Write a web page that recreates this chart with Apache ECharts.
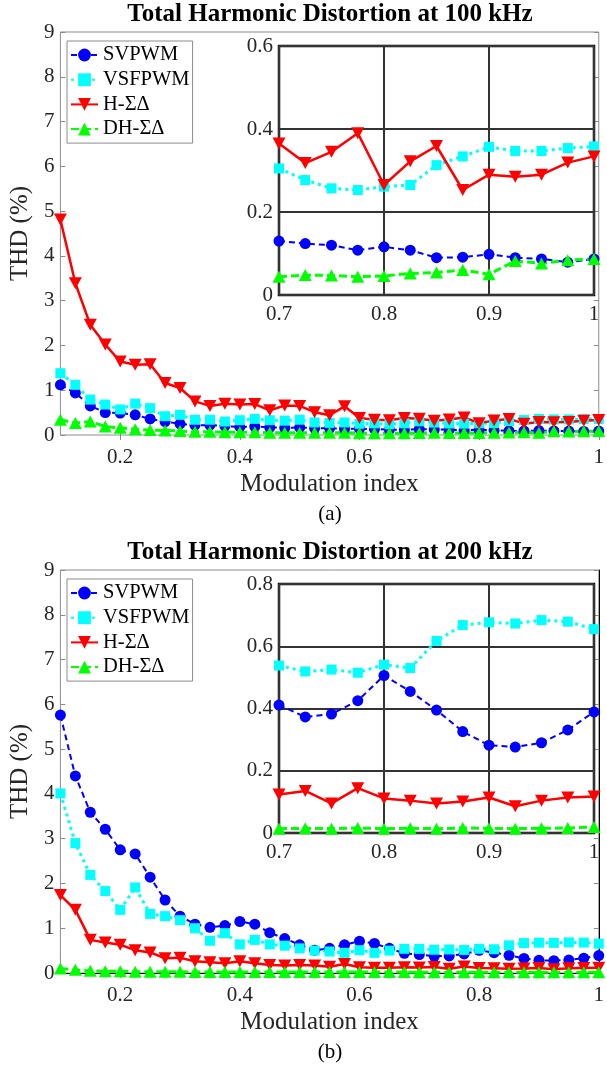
<!DOCTYPE html>
<html><head><meta charset="utf-8">
<script src="https://cdn.jsdelivr.net/npm/echarts@6/dist/echarts.min.js"></script>
<style>html,body{margin:0;padding:0;background:#fff}#c{width:607px;height:1066px}</style>
</head><body><div id="c"></div>
<script>
// ---- data ----
const modIndex = [0.1,0.125,0.15,0.175,0.2,0.225,0.25,0.275,0.3,0.325,0.35,0.375,0.4,0.425,0.45,0.475,0.5,0.525,0.55,0.575,0.6,0.625,0.65,0.675,0.7,0.725,0.75,0.775,0.8,0.825,0.85,0.875,0.9,0.925,0.95,0.975,1.0];
const xTickLabels = [0.2,0.4,0.6,0.8,1];
const seriesNames = ['SVPWM','VSFPWM','H-ΣΔ','DH-ΣΔ'];

// (a) 100 kHz
const a_svpwm  = [1.12,0.94,0.65,0.50,0.49,0.45,0.36,0.30,0.25,0.22,0.22,0.20,0.18,0.19,0.17,0.16,0.17,0.15,0.15,0.14,0.14,0.13,0.12,0.12,
                  0.130,0.124,0.120,0.108,0.116,0.108,0.090,0.091,0.098,0.090,0.087,0.079,0.087];
const a_vsfpwm = [1.38,1.12,0.79,0.68,0.57,0.70,0.60,0.42,0.45,0.34,0.34,0.30,0.33,0.36,0.33,0.32,0.34,0.28,0.27,0.28,0.25,0.26,0.24,0.26,
                  0.305,0.277,0.257,0.253,0.261,0.265,0.313,0.334,0.357,0.347,0.347,0.354,0.358];
const a_hsd    = [4.81,3.39,2.46,2.02,1.64,1.57,1.58,1.16,1.05,0.75,0.65,0.70,0.68,0.69,0.55,0.66,0.65,0.51,0.44,0.64,0.38,0.34,0.33,0.38,
                  0.365,0.318,0.345,0.390,0.265,0.322,0.359,0.253,0.290,0.285,0.290,0.319,0.334];
const a_dhsd   = [0.34,0.27,0.30,0.19,0.16,0.13,0.11,0.10,0.09,0.07,0.07,0.06,0.06,0.06,0.05,0.05,0.05,0.05,0.05,0.05,0.04,0.04,0.04,0.04,
                  0.044,0.048,0.047,0.044,0.046,0.052,0.054,0.060,0.050,0.082,0.076,0.084,0.087];
// (b) 200 kHz
const b_svpwm  = [5.76,4.40,3.59,3.21,2.75,2.66,2.14,1.63,1.27,1.09,1.02,1.06,1.15,1.09,0.90,0.77,0.63,0.51,0.55,0.63,0.71,0.66,0.55,0.44,
                  0.411,0.373,0.382,0.425,0.506,0.455,0.395,0.326,0.282,0.276,0.290,0.331,0.389];
const b_vsfpwm = [4.01,2.90,2.19,1.83,1.41,1.91,1.32,1.27,1.18,1.00,0.72,0.89,0.64,0.74,0.64,0.61,0.55,0.50,0.48,0.45,0.51,0.45,0.50,0.54,
                  0.538,0.519,0.525,0.515,0.541,0.530,0.617,0.668,0.677,0.673,0.684,0.679,0.655];
const b_hsd    = [1.74,1.41,0.74,0.68,0.63,0.51,0.46,0.33,0.34,0.26,0.24,0.22,0.26,0.22,0.18,0.17,0.18,0.17,0.14,0.20,0.13,0.12,0.12,0.13,
                  0.124,0.135,0.095,0.144,0.111,0.104,0.095,0.101,0.114,0.086,0.104,0.114,0.117];
const b_dhsd   = [0.10,0.07,0.05,0.04,0.04,0.03,0.03,0.03,0.03,0.02,0.02,0.02,0.02,0.02,0.02,0.02,0.02,0.02,0.02,0.02,0.02,0.02,0.02,0.02,
                  0.014,0.015,0.014,0.016,0.014,0.015,0.014,0.016,0.015,0.014,0.015,0.016,0.019];

const insetFrom = 0.7;   // inset shows the 0.7 .. 1.0 part of the same data

// ---- styling ----
const FONT = '"Liberation Serif","Times New Roman",serif';
const TXT = '#262626';
const styles = [
  {color:'#0000ff', symbol:'circle',   size:11,      rotate:0,   type:[6,4], width:2},
  {color:'#00ffff', symbol:'rect',     size:10,      rotate:0,   type:[3,4], width:3},
  {color:'#ff0000', symbol:'triangle', size:[13,12], rotate:180, type:'solid', width:2.5},
  {color:'#00ff00', symbol:'triangle', size:[13,12], rotate:0,   type:[8,4], width:3}
];

const chart = echarts.init(document.getElementById('c'), null, {renderer:'canvas'});
const opt = {animation:false, grid:[], xAxis:[], yAxis:[], series:[], legend:[], graphic:[]};
const fmt = v => String(+(+v).toFixed(2));

function panel(off, title, tag, arrays, insetMax, dark){
  const g = opt.grid.length;
  const axisCol = '#8c8c8c';
  opt.grid.push({left:54, right:2, top:32+off, height:403, show:true, borderColor:axisCol, borderWidth:1, backgroundColor:'transparent'});
  opt.grid.push({left:279, right:13, top:46+off, height:249, show:true, backgroundColor:'#ffffff', borderColor:'#000', borderWidth:2.5, z:10});
  const xm = opt.xAxis.length, ym = opt.yAxis.length;
  // main axes
  opt.xAxis.push({type:'value', gridIndex:g, min:0.1, max:1, position:'bottom',
    axisLine:{show:dark, lineStyle:{color:'#000', width:1}, onZero:false},
    axisTick:{show:true, inside:true, length:5, customValues:xTickLabels, lineStyle:{color:axisCol}},
    axisLabel:{customValues:xTickLabels, formatter:fmt, fontFamily:FONT, fontSize:21, color:TXT, margin:12},
    splitLine:{show:false},
    name:'Modulation index', nameLocation:'middle', nameGap:37, nameTextStyle:{fontFamily:FONT, fontSize:25, color:TXT}});
  opt.xAxis.push({type:'value', gridIndex:g, min:0.1, max:1, position:'top',
    axisLine:{show:false}, axisTick:{show:true, inside:true, length:5, customValues:xTickLabels, lineStyle:{color:axisCol}},
    axisLabel:{show:false}, splitLine:{show:false}});
  opt.yAxis.push({type:'value', gridIndex:g, min:0, max:9, interval:1, position:'left',
    axisLine:{show:false}, axisTick:{show:true, inside:true, length:5, lineStyle:{color:axisCol}},
    axisLabel:{fontFamily:FONT, fontSize:21, color:TXT, margin:6},
    splitLine:{show:false},
    name:'THD (%)', nameLocation:'middle', nameGap:20, nameTextStyle:{fontFamily:FONT, fontSize:25, color:TXT}});
  opt.yAxis.push({type:'value', gridIndex:g, min:0, max:9, interval:1, position:'right',
    axisLine:{show:dark, lineStyle:{color:'#000', width:1}}, axisTick:{show:true, inside:true, length:5, lineStyle:{color:axisCol}},
    axisLabel:{show:false}, splitLine:{show:false}});
  // inset axes
  opt.xAxis.push({type:'value', gridIndex:g+1, min:0.7, max:1, interval:0.1, z:11,
    axisLine:{show:false}, axisTick:{show:false},
    axisLabel:{formatter:fmt, fontFamily:FONT, fontSize:21, color:TXT, margin:9},
    splitLine:{show:true, lineStyle:{color:'#333333', width:2}}});
  opt.yAxis.push({type:'value', gridIndex:g+1, min:0, max:insetMax, interval:0.2, z:11,
    axisLine:{show:false}, axisTick:{show:false},
    axisLabel:{formatter:fmt, fontFamily:FONT, fontSize:21, color:TXT, margin:6},
    splitLine:{show:true, lineStyle:{color:'#333333', width:2}}});

  arrays.forEach((arr, i) => {
    const s = styles[i];
    const pts = modIndex.map((x, k) => [x, arr[k]]);
    const base = {type:'line', name:seriesNames[i], symbol:s.symbol, symbolSize:s.size, symbolRotate:s.rotate,
      itemStyle:{color:s.color, borderWidth:0}, lineStyle:{color:s.color, width:s.width, type:s.type, cap:'butt'},
      showSymbol:true, showAllSymbol:true, silent:true};
    opt.series.push(Object.assign({}, base, {xAxisIndex:xm, yAxisIndex:ym, data:pts, z:3}));
    opt.series.push(Object.assign({}, base, {xAxisIndex:xm+2, yAxisIndex:ym+2,
      data:pts.filter(p => p[0] >= insetFrom - 1e-9), z:12}));
  });

  opt.legend.push({left:67, top:41+off, orient:'vertical', padding:3, itemGap:2.7, itemWidth:27, itemHeight:16,
    borderColor:'#8c8c8c', borderWidth:1, backgroundColor:'#fff', data:seriesNames, selectedMode:false,
    textStyle:{fontFamily:FONT, fontSize:20.5, color:'#000', lineHeight:22}});

  opt.graphic.push({type:'text', x:330, y:15+off, z:20, style:{text:title, font:'bold 25px '+FONT, fill:'#000',
    align:'center', verticalAlign:'middle', textAlign:'center', textVerticalAlign:'middle'}});
  opt.graphic.push({type:'text', x:330, y:514+off, z:20, style:{text:tag, font:'21px '+FONT, fill:'#000',
    align:'center', verticalAlign:'middle', textAlign:'center', textVerticalAlign:'middle'}});
}

panel(0,   'Total Harmonic Distortion at 100 kHz', '(a)', [a_svpwm, a_vsfpwm, a_hsd, a_dhsd], 0.6, false);
panel(538, 'Total Harmonic Distortion at 200 kHz', '(b)', [b_svpwm, b_vsfpwm, b_hsd, b_dhsd], 0.8, true);

chart.setOption(opt);
</script>
</body></html>
